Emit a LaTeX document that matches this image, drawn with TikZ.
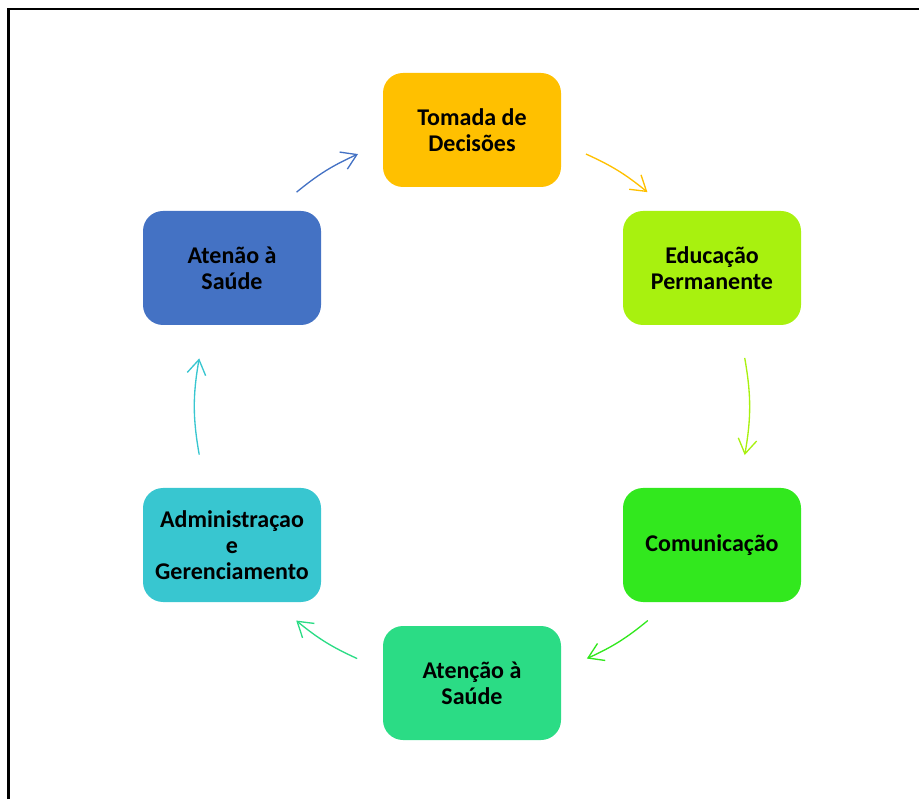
\documentclass[tikz,border=0pt]{standalone}
\usepackage{fontspec}
\setmainfont{Carlito}
\usepackage{tikz}
\usetikzlibrary{arrows.meta, calc}
\definecolor{decorange}{RGB}{255, 192, 0}
\definecolor{edulime}{RGB}{168, 241, 15}
\definecolor{comgreen}{RGB}{50, 232, 30}
\definecolor{saudegreen}{RGB}{43, 220, 133}
\definecolor{admcyan}{RGB}{56, 198, 208}
\definecolor{atenblue}{RGB}{68, 114, 196}

\tikzset{
  cyclebox/.style={rounded corners=15pt, minimum width=133.5pt, minimum height=85.5pt,
    align=center, inner sep=4pt, font=\fontsize{18}{19.5}\selectfont\bfseries},
  cyclearrow/.style={line width=1pt, -{Straight Barb[length=11pt, width=14pt]}},
}

\begin{document}
\begin{tikzpicture}[x=0.75pt, y=0.75pt]
  \useasboundingbox (0,0) rectangle (919,799);
  \draw[line width=2pt] (8.5,0) -- (8.5,790) -- (919,790);

  \node[cyclebox, fill=decorange] (tomada) at (472, 669) {Tomada de\\Decisões};
  \node[cyclebox, fill=edulime] (educacao) at (712, 531) {Educação\\Permanente};
  \node[cyclebox, fill=comgreen] (comunicacao) at (712, 254) {Comunicação};
  \node[cyclebox, fill=saudegreen] (atencao) at (472, 116) {Atenção à\\Saúde};
  \node[cyclebox, fill=admcyan] (admin) at (232, 254) {Administraçao\\e\\Gerenciamento};
  \node[cyclebox, fill=atenblue] (atenao) at (232, 531) {Atenão à\\Saúde};

  % arrow ends on the circle round the cycle
  \coordinate (ctr) at (472, 392.5);
  \coordinate (s1) at ($(ctr)+(129.3:277)$);
  \coordinate (e1) at ($(ctr)+(114.3:277)$);
  \coordinate (s2) at ($(ctr)+(65.7:277)$);
  \coordinate (e2) at ($(ctr)+(50.7:277)$);
  \coordinate (s3) at ($(ctr)+(10.1:277)$);
  \coordinate (e3) at ($(ctr)+(-10.1:277)$);
  \coordinate (s4) at ($(ctr)+(-50.6:277)$);
  \coordinate (e4) at ($(ctr)+(-65.5:277)$);
  \coordinate (s5) at ($(ctr)+(-114.5:277)$);
  \coordinate (e5) at ($(ctr)+(-129.4:277)$);
  \coordinate (s6) at ($(ctr)+(190:277)$);
  \coordinate (e6) at ($(ctr)+(170:277)$);

  \draw[cyclearrow, atenblue] (s1) to[bend left=7.5] (e1);
  \draw[cyclearrow, decorange] (s2) to[bend left=7.5] (e2);
  \draw[cyclearrow, edulime] (s3) to[bend left=10] (e3);
  \draw[cyclearrow, comgreen] (s4) to[bend left=7.5] (e4);
  \draw[cyclearrow, saudegreen] (s5) to[bend left=7.5] (e5);
  \draw[cyclearrow, admcyan] (s6) to[bend left=10] (e6);
\end{tikzpicture}
\end{document}
